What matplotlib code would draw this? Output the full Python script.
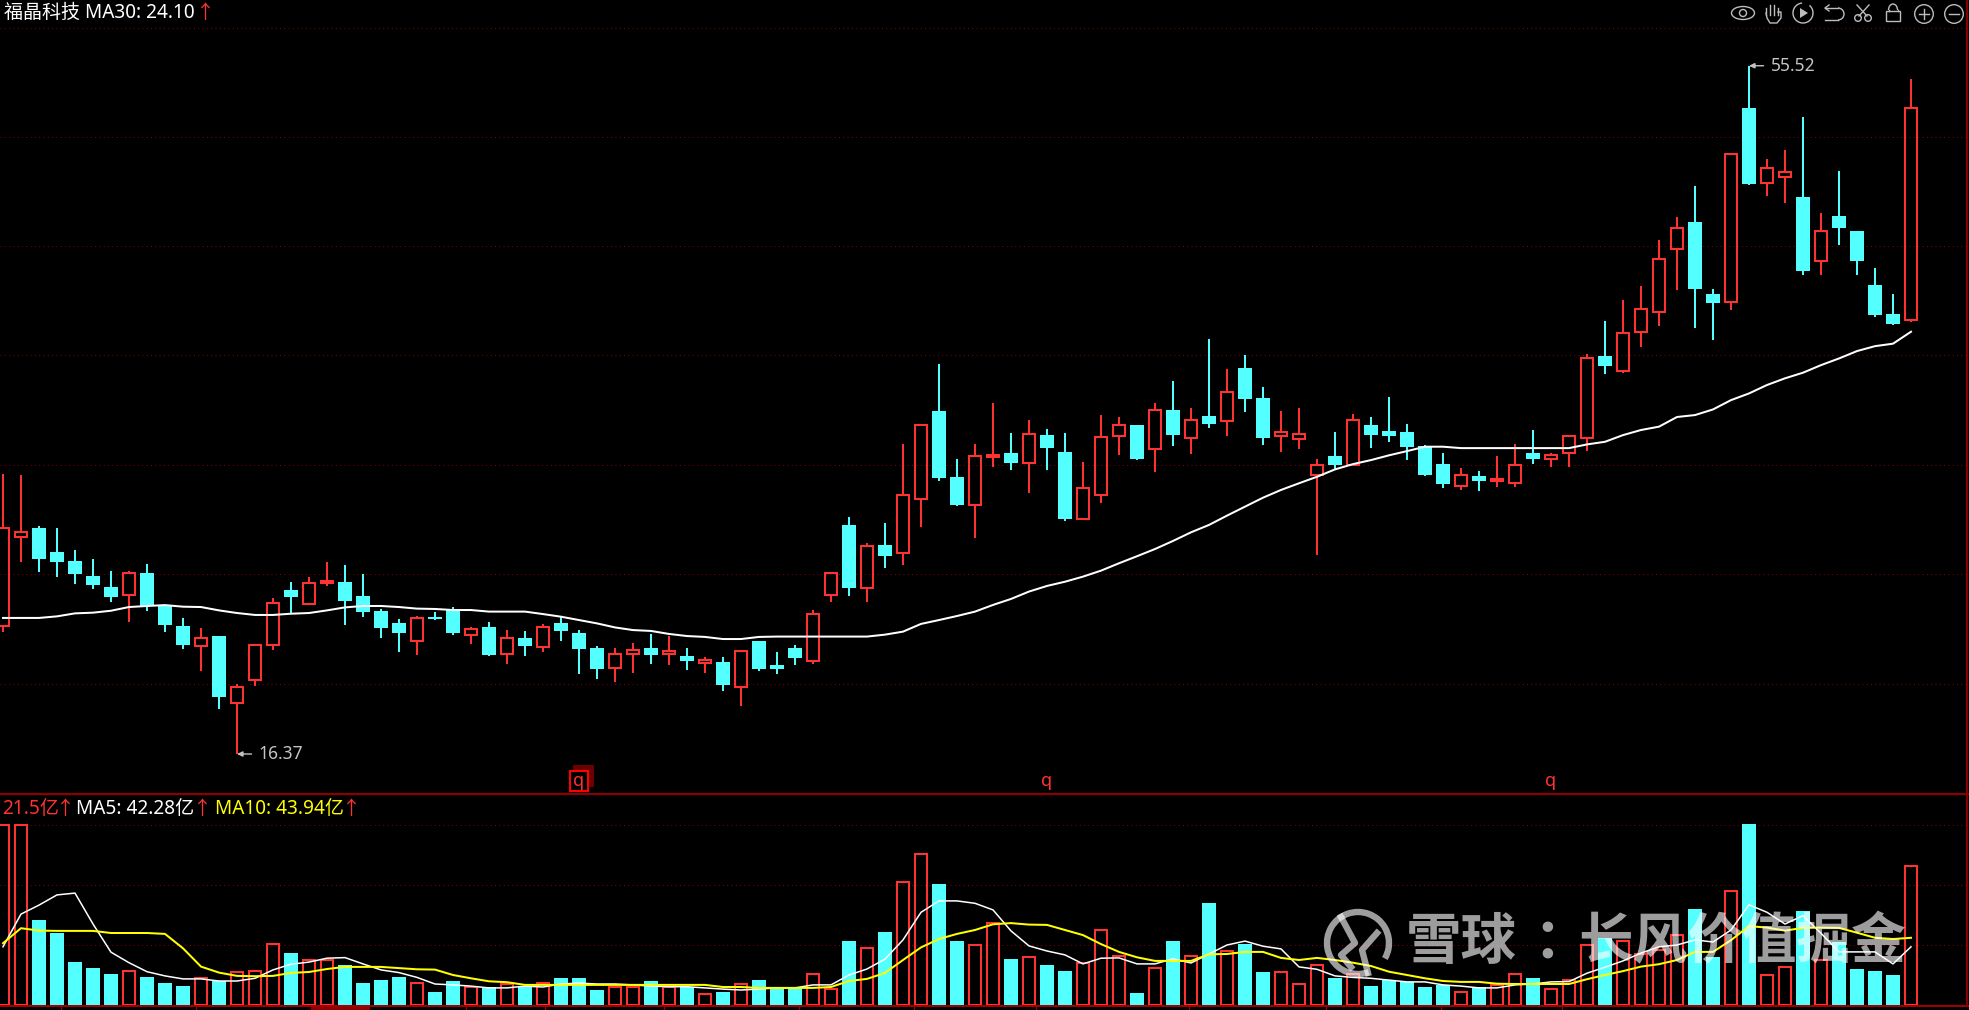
import matplotlib
matplotlib.use('Agg')
import matplotlib.pyplot as plt
from matplotlib.patches import Arc, Circle, Ellipse, Rectangle, Polygon

plt.rcParams['font.family'] = ['Noto Sans', 'Noto Sans CJK SC', 'DejaVu Sans']

opens = [23.63, 28.69, 29.22, 27.86, 27.35, 26.49, 25.87, 25.43, 26.67, 24.79,
         23.65, 22.53, 23.08, 19.29, 20.56, 22.55, 25.70, 24.92, 26.10, 26.15,
         25.36, 24.50, 23.82, 22.78, 24.14, 24.56, 23.12, 23.59, 22.04, 22.97,
         22.44, 23.82, 23.25, 22.40, 21.24, 22.08, 22.40, 22.06, 21.95, 21.55,
         21.60, 20.20, 22.80, 21.43, 22.40, 21.68, 25.43, 29.40, 25.83, 28.26,
         27.82, 30.90, 35.88, 32.13, 30.55, 33.27, 33.49, 32.94, 34.52, 33.55,
         29.76, 31.12, 34.48, 35.09, 33.70, 35.94, 34.36, 35.60, 35.33, 38.33,
         36.62, 34.46, 34.31, 32.26, 33.32, 32.83, 35.08, 34.74, 34.68, 33.87,
         32.86, 31.61, 32.18, 31.90, 31.76, 33.49, 33.17, 33.47, 34.32, 39.01,
         38.13, 40.35, 41.49, 45.07, 46.63, 42.53, 42.06, 53.11, 48.83, 49.19,
         48.05, 44.39, 46.97, 46.12, 43.04, 41.40, 41.03]
closes = [29.24, 29.02, 27.48, 27.31, 26.61, 26.00, 25.32, 26.65, 24.79, 23.73,
          22.59, 22.95, 19.63, 20.16, 22.55, 24.94, 25.30, 26.12, 26.19, 25.07,
          24.45, 23.54, 23.25, 24.09, 24.05, 23.25, 23.46, 22.00, 22.95, 22.51,
          23.57, 23.37, 22.34, 21.20, 22.04, 22.29, 22.00, 22.23, 21.66, 21.72,
          20.30, 22.25, 21.21, 21.21, 21.83, 24.32, 26.65, 25.81, 28.18, 27.63,
          31.08, 35.07, 32.07, 30.53, 33.30, 33.36, 32.92, 34.55, 33.78, 29.74,
          31.48, 34.38, 35.07, 33.15, 35.92, 34.52, 35.35, 35.14, 36.94, 36.56,
          34.35, 34.69, 34.55, 32.83, 32.81, 35.38, 34.51, 34.46, 33.83, 32.24,
          31.73, 32.26, 31.90, 31.99, 32.83, 33.15, 33.37, 34.47, 38.91, 38.44,
          40.33, 41.70, 44.54, 46.31, 42.82, 42.02, 50.51, 48.79, 49.72, 49.49,
          43.84, 46.13, 46.31, 44.41, 41.34, 40.83, 53.13]
highs = [32.30, 32.24, 29.34, 29.22, 27.97, 27.46, 26.78, 26.78, 27.18, 24.86,
         24.11, 23.54, 23.08, 20.33, 22.55, 25.24, 26.15, 26.44, 27.29, 27.12,
         26.61, 24.62, 24.05, 24.22, 24.45, 24.73, 23.59, 23.88, 23.42, 23.37,
         23.76, 24.22, 23.42, 22.51, 22.40, 22.68, 23.20, 23.08, 22.40, 21.89,
         21.89, 22.29, 22.80, 22.17, 22.57, 24.56, 26.65, 29.85, 28.37, 29.51,
         34.00, 35.07, 38.55, 33.15, 34.00, 36.34, 34.63, 35.37, 34.86, 34.63,
         32.98, 35.65, 35.54, 35.09, 36.34, 37.59, 36.05, 39.98, 38.27, 39.07,
         37.25, 35.88, 36.05, 33.15, 34.68, 35.71, 35.54, 36.67, 35.14, 33.92,
         33.49, 32.64, 32.46, 33.32, 34.00, 34.80, 33.49, 34.47, 39.12, 41.00,
         42.19, 42.99, 45.60, 46.91, 48.68, 42.82, 50.53, 55.52, 50.21, 50.72,
         52.60, 47.14, 49.53, 46.12, 44.01, 42.53, 54.76]
lows = [23.33, 27.31, 26.74, 26.46, 26.06, 25.77, 25.03, 23.90, 24.52, 23.33,
        22.36, 21.11, 18.95, 16.37, 20.26, 22.30, 24.41, 24.84, 25.94, 23.73,
        24.18, 22.99, 22.19, 22.02, 23.99, 23.14, 22.65, 21.94, 21.51, 21.96,
        22.19, 22.80, 20.94, 20.64, 20.48, 21.00, 21.51, 21.43, 21.15, 20.98,
        19.97, 19.12, 21.09, 20.92, 21.43, 21.49, 25.02, 25.36, 25.02, 26.95,
        27.12, 29.28, 31.90, 30.48, 28.66, 32.70, 32.53, 31.22, 32.53, 29.62,
        29.68, 30.65, 33.38, 33.09, 32.41, 33.89, 33.44, 34.91, 34.46, 35.82,
        33.95, 33.55, 33.72, 27.69, 32.52, 32.81, 33.77, 34.11, 33.09, 32.18,
        31.50, 31.38, 31.33, 31.55, 31.55, 32.86, 32.69, 32.69, 33.60, 37.98,
        38.06, 39.52, 40.71, 42.76, 40.60, 39.92, 41.62, 48.73, 48.11, 47.71,
        43.61, 43.61, 45.32, 43.61, 41.22, 40.77, 40.94]
ma30 = [24.11, 24.11, 24.11, 24.20, 24.37, 24.41, 24.52, 24.73, 24.79, 24.84,
        24.75, 24.73, 24.54, 24.39, 24.28, 24.28, 24.35, 24.39, 24.54, 24.71,
        24.79, 24.79, 24.73, 24.64, 24.62, 24.56, 24.56, 24.47, 24.47, 24.47,
        24.33, 24.18, 23.99, 23.80, 23.57, 23.42, 23.37, 23.20, 23.08, 23.03,
        22.91, 22.91, 23.03, 23.05, 23.05, 23.05, 23.05, 23.05, 23.05, 23.16,
        23.33, 23.77, 23.99, 24.22, 24.47, 24.85, 25.19, 25.61, 25.93, 26.17,
        26.46, 26.80, 27.22, 27.62, 28.03, 28.49, 28.98, 29.40, 29.93, 30.44,
        30.95, 31.39, 31.77, 32.14, 32.56, 32.86, 33.09, 33.36, 33.60, 33.85,
        33.85, 33.77, 33.77, 33.77, 33.77, 33.77, 33.77, 33.77, 33.98, 34.13,
        34.51, 34.80, 34.99, 35.54, 35.65, 35.97, 36.50, 36.88, 37.36, 37.74,
        38.06, 38.49, 38.87, 39.29, 39.57, 39.71, 40.39]

volume = [60, 60, 28.3, 24, 14.3, 12.3, 10.3, 11.2, 9.3, 7.3,
          6.3, 8.9, 7.9, 10.9, 11.2, 20.2, 17.3, 14.9, 14.9, 13.3,
          7.3, 8.3, 9.3, 7.2, 4.3, 8, 5.9, 5.9, 6.9, 6.3,
          7.2, 9, 9, 5, 5.9, 5.9, 8, 5.9, 5.9, 3.8,
          4.3, 6.9, 8.3, 5.9, 5.9, 10.2, 5.2, 21.3, 18.9, 24.3,
          40.9, 50.2, 40.3, 21.3, 19.9, 27.2, 15.3, 15.9, 13.3, 11.3,
          13.9, 24.9, 16.2, 4, 12.2, 21.3, 16.2, 34, 17.9, 20.3,
          11, 10.9, 6.9, 13.2, 9, 10.3, 6.3, 8.3, 7.7, 6,
          6.7, 4.2, 5.9, 6.7, 10.2, 9, 5.2, 8.2, 19.9, 22.2,
          21.2, 17, 18.3, 23.3, 32, 16, 37.9, 60.3, 9.9, 12.8,
          31.3, 14.9, 21, 12, 11.3, 10, 46.2]
vol_ma5 = [19.4, 30.3, 33.3, 36.7, 37.3, 27, 17.6, 14.1, 11.1, 9.7,
           8.7, 8.7, 8, 8, 8.9, 11.7, 13.6, 14.3, 15.6, 15.8,
           13.7, 11.7, 10.8, 9.2, 7, 6.7, 6.3, 5.7, 5.7, 6.3,
           6, 7, 7.3, 7, 7, 6.7, 6.3, 6.1, 6.1, 5.7,
           5.3, 5, 5.3, 5.7, 5.7, 6.7, 6.7, 10, 12, 15.3,
           21.7, 30.9, 34.7, 34.7, 33.9, 31.7, 24.7, 19.7, 18, 16.7,
           13.7, 15.6, 15.7, 13.7, 13.7, 15.4, 14, 17, 20, 21.3,
           19.6, 18.7, 12.7, 11.9, 9.7, 9.2, 8.9, 8.3, 7.7, 7.7,
           6.7, 6.3, 5.7, 5.7, 6.7, 7, 7.7, 7.8, 10.6, 12.6,
           14.7, 17.3, 19.4, 20, 21.7, 21, 25, 33.4, 30.9, 27,
           29.8, 23.9, 17.7, 17.7, 17.7, 13.7, 19.4]
vol_ma10 = [20.6, 25.6, 24.8, 24.7, 24.7, 24.7, 24, 24, 24, 23.7,
            18.9, 12.8, 10.8, 9.7, 9.6, 9.7, 10.7, 11, 12, 12.7,
            12.7, 12.7, 12.3, 11.9, 11.8, 10, 8.9, 7.9, 7.6, 6.7,
            6.7, 6.7, 6.7, 6.7, 6.7, 6.7, 6.7, 6.7, 6.7, 6.7,
            6, 6, 5.7, 5.7, 5.7, 5.7, 6, 8, 8.7, 10.7,
            15, 19.2, 22, 23.7, 25, 26.9, 27.3, 26.8, 26.7, 25,
            23.3, 20.3, 17.7, 15.9, 14.7, 14.7, 14.7, 16.9, 17, 17.7,
            17.7, 15.7, 15, 15.7, 15, 14.1, 13, 11.1, 10, 8.9,
            8, 7.7, 7.7, 7.1, 7, 7, 7, 7, 8.6, 10,
            11.3, 12.8, 13.6, 15, 17.7, 17.7, 21.6, 26.3, 25.8, 24.8,
            25.7, 25.8, 25.7, 24.1, 22.4, 22, 22.4]

price_grid = [57.66, 51.49, 45.26, 39.07, 32.81, 26.61, 20.35]
vol_grid = [60, 40, 20]
q_days = [32, 58, 86]
month_ticks = [3.2, 10.7, 25.7, 30.1, 36.7, 44.2, 50.6, 57.4, 65.9, 73.5, 79.9, 86.6]

RED = '#ff3232'
CYAN = '#54ffff'
GRID = '#8b0000'
GREY = '#bdbdbd'
W, H = 1969, 1010

days = list(range(len(closes)))
up = [c >= o for o, c in zip(opens, closes)]

fig = plt.figure(figsize=(W / 100, H / 100), dpi=100, facecolor='black')


def panel(top, bottom):
    ax = fig.add_axes([0, 1 - bottom / H, 1, (bottom - top) / H])
    ax.set_facecolor('black')
    ax.set_xlim(-3 / 18, (W - 3) / 18)
    ax.set_xticks([])
    ax.set_yticks([])
    for s in ax.spines.values():
        s.set_visible(False)
    return ax


# k线
ax = panel(0, 794)
ax.set_ylim(14.095, 59.26)
for g in price_grid:
    ax.axhline(g, color=GRID, lw=0.72, ls=(0, (1, 3.3)), zorder=1)

for d, o, c, hi, lo, is_up in zip(days, opens, closes, highs, lows, up):
    top, bot = max(o, c), min(o, c)
    col = RED if is_up else CYAN
    ax.vlines(d, top, hi, color=col, lw=1.45, zorder=2)
    ax.vlines(d, lo, bot, color=col, lw=1.45, zorder=2)
    if is_up:
        ax.bar(d, top - bot, bottom=bot, width=0.69, facecolor='none', edgecolor=col, lw=1.45, zorder=3)
    else:
        ax.bar(d, top - bot, bottom=bot, width=0.78, color=col, lw=0, zorder=3)
ax.plot(days, ma30, color='white', lw=1.45, zorder=4)

for day, val in ((13, 16.37), (97, 55.52)):
    ax.annotate(f'{val:.2f}', xy=(day, val), xytext=(15.5, 0), textcoords='offset points',
                color='#c4c4c4', fontsize=12.5, va='center', zorder=5,
                arrowprops=dict(arrowstyle='-|>,head_length=0.25,head_width=0.12', color='#c4c4c4',
                                lw=1, shrinkA=3, shrinkB=0))

# 成交量
vax = panel(794, 1010)
vax.set_ylim(-5 / 3, 211 / 3)
for g in vol_grid:
    vax.axhline(g, color=GRID, lw=0.72, ls=(0, (1, 3.3)), zorder=1)
for d, v, is_up in zip(days, volume, up):
    if is_up:
        vax.bar(d, v, width=0.69, facecolor='none', edgecolor=RED, lw=1.45, zorder=2)
    else:
        vax.bar(d, v, width=0.78, color=CYAN, lw=0, zorder=2)
vax.plot(days, vol_ma5, color='white', lw=1.1, zorder=3)
vax.plot(days, vol_ma10, color='#ffff00', lw=1.45, zorder=4)
vax.axhline(-0.33, color='#a00000', lw=1.45, zorder=5)
vax.vlines(month_ticks, -1.67, -0.33, color='#a00000', lw=1, zorder=5)
vax.axvspan(17.1, 20.4, ymin=0, ymax=1.1 / 72, color='#8b0000', lw=0, zorder=5)

# 叠加层 用像素坐标放文字和工具栏图标
top = fig.add_axes([0, 0, 1, 1], zorder=10)
top.set_xlim(0, W)
top.set_ylim(H, 0)
top.axis('off')
top.patch.set_visible(False)

top.plot([0, W], [794, 794], color='#8b0000', lw=1.6)
top.plot([1967, 1967], [0, 1006], color='#8b0000', lw=1.4)

top.text(4, 13, '福晶科技 MA30: 24.10', color='white', fontsize=13.7, va='center')
top.text(205, 13, '↑', color=RED, fontsize=13.7, va='center', ha='center')

top.text(2, 809, '21.5亿', color=RED, fontsize=13.7, va='center')
top.text(65, 809, '↑', color=RED, fontsize=13.7, va='center', ha='center')
top.text(76, 809, 'MA5: 42.28亿', color='white', fontsize=13.7, va='center')
top.text(202, 809, '↑', color=RED, fontsize=13.7, va='center', ha='center')
top.text(215, 809, 'MA10: 43.94亿', color='#ffff00', fontsize=13.7, va='center')
top.text(351, 809, '↑', color=RED, fontsize=13.7, va='center', ha='center')

# q标记
for i, d in enumerate(q_days):
    px = 3 + 18 * d
    top.text(px, 781, 'q', color=RED, fontsize=13, ha='center', va='center', zorder=3)
    if i == 0:
        top.add_patch(Rectangle((px - 6, 765), 21, 22, facecolor='#6a0000', edgecolor='none', zorder=1))
        top.add_patch(Rectangle((px - 9, 771), 18, 20, facecolor='black', edgecolor='#ff0000', lw=1.45, zorder=2))

# 工具栏图标
top.add_patch(Ellipse((1743, 13), 23, 13, fill=False, ec=GREY, lw=1))
top.add_patch(Circle((1743, 13), 3.5, fill=False, ec=GREY, lw=1))
for fx, fy in ((1766, 8), (1770, 5), (1774, 5), (1778, 8)):
    top.plot([fx, fx], [fy, 15], color=GREY, lw=1)
top.plot([1766, 1767, 1770, 1777, 1781, 1781, 1778], [13, 18, 23, 23, 18, 12, 12], color=GREY, lw=1)
top.add_patch(Arc((1803, 13), 20, 20, theta1=-50, theta2=265, ec=GREY, lw=1))
top.add_patch(Polygon([(1800, 8), (1800, 18), (1808, 13)], fc=GREY, ec='none'))
top.plot([1825, 1838], [8, 8], color=GREY, lw=1)
top.add_patch(Arc((1838, 14), 12, 12, theta1=-90, theta2=90, ec=GREY, lw=1))
top.plot([1838, 1825], [20, 20], color=GREY, lw=1)
top.plot([1829, 1825, 1829], [5, 8, 11], color=GREY, lw=1)
top.plot([1857, 1867], [5, 16], color=GREY, lw=1)
top.plot([1869, 1859], [5, 16], color=GREY, lw=1)
top.add_patch(Circle((1858, 18), 3.3, fill=False, ec=GREY, lw=1))
top.add_patch(Circle((1868, 18), 3.3, fill=False, ec=GREY, lw=1))
top.add_patch(Rectangle((1886, 11), 14, 10, fill=False, ec=GREY, lw=1))
top.add_patch(Arc((1893, 10), 9, 12, theta1=180, theta2=360, ec=GREY, lw=1))
top.plot([1888.5, 1888.5], [10, 11], color=GREY, lw=1)
top.plot([1897.5, 1897.5], [10, 11], color=GREY, lw=1)
top.add_patch(Circle((1924, 14), 9.3, fill=False, ec=GREY, lw=1))
top.plot([1919, 1929], [14, 14], color=GREY, lw=1)
top.plot([1924, 1924], [9, 19], color=GREY, lw=1)
top.add_patch(Circle((1954, 14), 9.3, fill=False, ec=GREY, lw=1))
top.plot([1949, 1959], [14, 14], color=GREY, lw=1)

# 水印
WM = (1, 1, 1, 0.62)
top.text(1406, 944, '雪球', color=WM, fontsize=40, va='center', fontweight='bold')
top.text(1533, 944, '：', color=WM, fontsize=40, va='center', fontweight='bold')
top.text(1578, 944, '长风价值掘金', color=WM, fontsize=39.3, va='center', fontweight='bold')
top.add_patch(Arc((1358, 943), 62, 62, theta1=70, theta2=390, ec=WM, lw=4.6))
top.plot([1341, 1355, 1341, 1351], [917, 943, 955, 967], color=WM, lw=4.6)
top.plot([1377, 1362, 1368], [933, 950, 973], color=WM, lw=4.6)

fig.savefig('out.png', dpi=100, facecolor='black')
